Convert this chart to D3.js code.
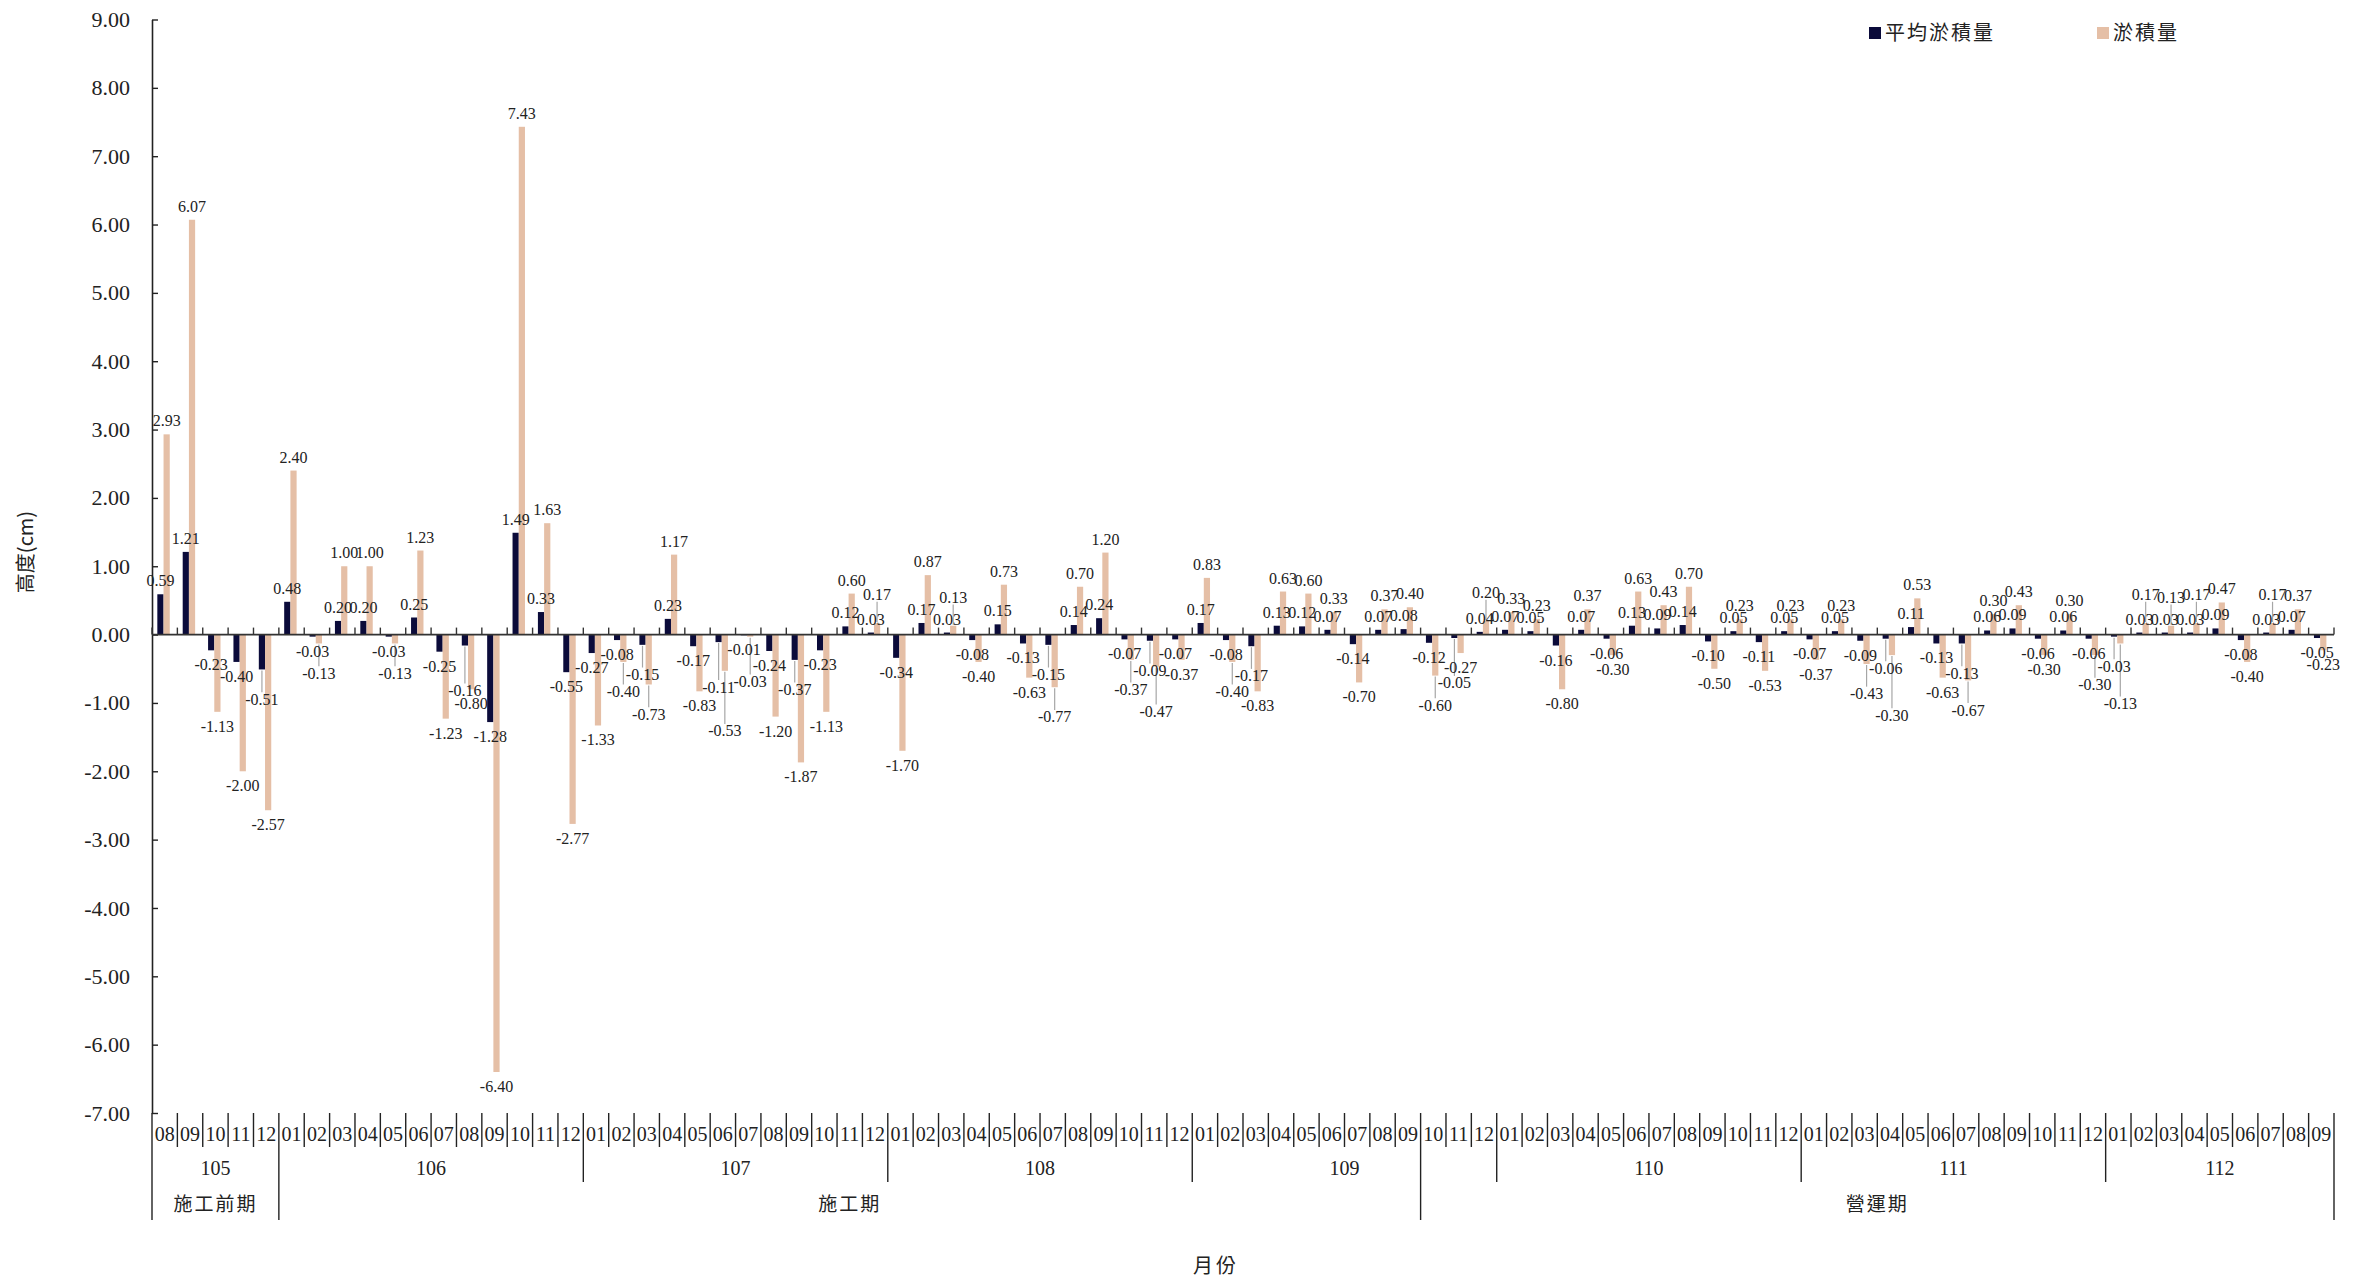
<!DOCTYPE html>
<html><head><meta charset="utf-8">
<script src="https://cdn.jsdelivr.net/npm/d3@7"></script>
<style>body{margin:0;background:#fff}</style>
</head><body>
<svg id="c" width="2369" height="1282"></svg>
<script>
const categories = [
 "105/08","105/09","105/10","105/11","105/12",
 "106/01","106/02","106/03","106/04","106/05","106/06","106/07","106/08","106/09","106/10","106/11","106/12",
 "107/01","107/02","107/03","107/04","107/05","107/06","107/07","107/08","107/09","107/10","107/11","107/12",
 "108/01","108/02","108/03","108/04","108/05","108/06","108/07","108/08","108/09","108/10","108/11","108/12",
 "109/01","109/02","109/03","109/04","109/05","109/06","109/07","109/08","109/09","109/10","109/11","109/12",
 "110/01","110/02","110/03","110/04","110/05","110/06","110/07","110/08","110/09","110/10","110/11","110/12",
 "111/01","111/02","111/03","111/04","111/05","111/06","111/07","111/08","111/09","111/10","111/11","111/12",
 "112/01","112/02","112/03","112/04","112/05","112/06","112/07","112/08","112/09"
];
const avgSediment = [
 0.59,1.21,-0.23,-0.40,-0.51,
 0.48,-0.03,0.20,0.20,-0.03,0.25,-0.25,-0.16,-1.28,1.49,0.33,-0.55,
 -0.27,-0.08,-0.15,0.23,-0.17,-0.11,-0.01,-0.24,-0.37,-0.23,0.12,0.03,
 -0.34,0.17,0.03,-0.08,0.15,-0.13,-0.15,0.14,0.24,-0.07,-0.09,-0.07,
 0.17,-0.08,-0.17,0.13,0.12,0.07,-0.14,0.07,0.08,-0.12,-0.05,0.04,
 0.07,0.05,-0.16,0.07,-0.06,0.13,0.09,0.14,-0.10,0.05,-0.11,0.05,
 -0.07,0.05,-0.09,-0.06,0.11,-0.13,-0.13,0.06,0.09,-0.06,0.06,-0.06,
 -0.03,0.03,0.03,0.03,0.09,-0.08,0.03,0.07,-0.05
];
const sediment = [
 2.93,6.07,-1.13,-2.00,-2.57,
 2.40,-0.13,1.00,1.00,-0.13,1.23,-1.23,-0.80,-6.40,7.43,1.63,-2.77,
 -1.33,-0.40,-0.73,1.17,-0.83,-0.53,-0.03,-1.20,-1.87,-1.13,0.60,0.17,
 -1.70,0.87,0.13,-0.40,0.73,-0.63,-0.77,0.70,1.20,-0.37,-0.47,-0.37,
 0.83,-0.40,-0.83,0.63,0.60,0.33,-0.70,0.37,0.40,-0.60,-0.27,0.20,
 0.33,0.23,-0.80,0.37,-0.30,0.63,0.43,0.70,-0.50,0.23,-0.53,0.23,
 -0.37,0.23,-0.43,-0.30,0.53,-0.63,-0.67,0.30,0.43,-0.30,0.30,-0.30,
 -0.13,0.17,0.13,0.17,0.47,-0.40,0.17,0.37,-0.23
];
const seriesNames = ["平均淤積量","淤積量"];
const seriesColors = ["#0b0b3a","#e5bfa6"];
const yTicks = [9,8,7,6,5,4,3,2,1,0,-1,-2,-3,-4,-5,-6,-7];
const periodNames = ["施工前期","施工期","營運期"];
const periodStarts = ["105/08","106/01","109/10"];

(function () {
const svg = d3.select("#c");
const serif = "'Liberation Serif','Times New Roman',serif";
const cjk = "'Noto Sans CJK TC','Noto Sans CJK SC',sans-serif";
const L = 152, R = 2334, T = 19.5, B = 1113;

const x = d3.scaleBand().domain(categories).range([L, R]).padding(0);
const bw = x.bandwidth();
const y = d3.scaleLinear().domain([-7, 9]).range([B, T]);
const inner = d3.scaleBand().domain(seriesNames).range([bw * 0.21, bw * 0.70]).padding(0);
const color = d3.scaleOrdinal().domain(seriesNames).range(seriesColors);
const f2 = d3.format(".2f");
const fmt = v => f2(v).replace("\u2212", "-");

// Y axis
const yAxis = d3.axisLeft(y).tickValues(yTicks).tickFormat(fmt)
  .tickSizeInner(-6).tickSizeOuter(0).tickPadding(22);
const gy = svg.append("g").attr("transform", `translate(${L},0)`).call(yAxis);
gy.select(".domain").attr("stroke", "#222").attr("stroke-width", 1.6);
gy.selectAll(".tick line").attr("stroke", "#222").attr("stroke-width", 1.4);
gy.selectAll(".tick text").attr("font-family", serif).attr("font-size", 22).attr("fill", "#222");

// Bars
const rows = categories.map((c, i) => ({cat: c, vals: [avgSediment[i], sediment[i]]}));
const barsG = svg.append("g");
rows.forEach(r => {
  seriesNames.forEach((s, k) => {
    const v = r.vals[k];
    barsG.append("rect")
      .attr("x", x(r.cat) + inner(s))
      .attr("width", inner.bandwidth())
      .attr("y", y(Math.max(0, v)))
      .attr("height", Math.abs(y(v) - y(0)))
      .attr("fill", color(s));
  });
});

// Zero (category) line and month tick marks
const y0 = y(0);
svg.append("line").attr("x1", L).attr("x2", R).attr("y1", y0).attr("y2", y0)
  .attr("stroke", "#333").attr("stroke-width", 1.8);
const bounds = d3.range(categories.length + 1).map(i => L + i * bw);
svg.append("g").selectAll("line").data(bounds).join("line")
  .attr("x1", d => d).attr("x2", d => d).attr("y1", y0 - 7).attr("y2", y0)
  .attr("stroke", "#333").attr("stroke-width", 1.4);

// Data labels with simple collision avoidance (push away from zero line)
const FS = 16;
const leaderG = svg.append("g");
const labelG = svg.append("g");
const placed = [];
const tol = 3;
function overlaps(b) {
  return placed.some(p => b.x0 < p.x1 - tol && b.x1 > p.x0 + tol && b.y0 < p.y1 - 1 && b.y1 > p.y0 + 1);
}
const order = [];
seriesNames.forEach((s, k) => rows.forEach(r => order.push({r, s, k})));
order.forEach(({r, s, k}) => {
  const v = r.vals[k];
  const cx = x(r.cat) + inner(s) + inner.bandwidth() / 2;
  const dir = v >= 0 ? -1 : 1;
  let base = v >= 0 ? y(v) - 8 : y(v) + 20;
  const t = labelG.append("text").attr("x", cx).attr("y", base)
    .attr("text-anchor", "middle").attr("font-family", serif).attr("font-size", FS).attr("fill", "#222")
    .text(fmt(v));
  const w = t.node().getComputedTextLength();
  let box = {x0: cx - w / 2, x1: cx + w / 2, y0: base - FS * 0.72, y1: base + 1};
  let step = 0;
  while (overlaps(box) && step < 6) {
    step++;
    base += dir * FS * 0.95;
    box = {x0: cx - w / 2, x1: cx + w / 2, y0: base - FS * 0.72, y1: base + 1};
  }
  t.attr("y", base);
  placed.push(box);
  if (step > 0) {
    const ly = v >= 0 ? box.y1 + 1 : box.y0 - 1;
    leaderG.append("line").attr("x1", cx).attr("x2", cx)
      .attr("y1", ly).attr("y2", y(v) + (v >= 0 ? -1 : 1))
      .attr("stroke", "#a6a6a6").attr("stroke-width", 1.2);
  }
});

// Bottom multi-level category axis
const periodIdx = periodStarts.map(p => categories.indexOf(p));
const ga = svg.append("g");
ga.selectAll("line").data(bounds).join("line")
  .attr("x1", d => d).attr("x2", d => d)
  .attr("y1", B)
  .attr("y2", (d, i) => {
    if (i === 0 || i === categories.length || periodIdx.includes(i)) return 1220;
    if (categories[i].endsWith("/01")) return 1182;
    return 1147;
  })
  .attr("stroke", "#222").attr("stroke-width", 1.4);
ga.selectAll("text.m").data(categories).join("text").attr("class", "m")
  .attr("x", d => x(d) + bw / 2).attr("y", 1141)
  .attr("text-anchor", "middle").attr("font-family", serif).attr("font-size", 20).attr("fill", "#222")
  .text(d => d.split("/")[1]);
const years = Array.from(d3.group(categories, d => d.split("/")[0]), ([yr, list]) => ({yr, first: list[0], last: list[list.length - 1]}));
ga.selectAll("text.yr").data(years).join("text").attr("class", "yr")
  .attr("x", d => (x(d.first) + x(d.last) + bw) / 2).attr("y", 1175)
  .attr("text-anchor", "middle").attr("font-family", serif).attr("font-size", 20).attr("fill", "#222")
  .text(d => d.yr);
const periods = periodNames.map((p, k) => ({p, s: periodIdx[k], e: k + 1 < periodIdx.length ? periodIdx[k + 1] : categories.length}));
ga.selectAll("text.pd").data(periods).join("text").attr("class", "pd")
  .attr("x", d => L + (d.s + d.e) / 2 * bw).attr("y", 1211)
  .attr("text-anchor", "middle").attr("font-family", cjk).attr("font-size", 19).attr("fill", "#222")
  .attr("letter-spacing", 2)
  .text(d => d.p);

// Axis titles
svg.append("text").attr("transform", "translate(33,552) rotate(-90)")
  .attr("text-anchor", "middle").attr("font-family", cjk).attr("font-size", 20).attr("fill", "#222")
  .text("高度(cm)");
svg.append("text").attr("x", 1216).attr("y", 1273)
  .attr("text-anchor", "middle").attr("font-family", cjk).attr("font-size", 20).attr("fill", "#222")
  .attr("letter-spacing", 3)
  .text("月份");

// Legend
const legendX = [1869, 2097];
const lg = svg.append("g").selectAll("g").data(seriesNames).join("g")
  .attr("transform", (d, i) => `translate(${legendX[i]},33)`);
lg.append("rect").attr("x", 0).attr("y", -6).attr("width", 12).attr("height", 12).attr("fill", d => color(d));
lg.append("text").attr("x", 16).attr("y", 7).attr("font-family", cjk).attr("font-size", 20)
  .attr("letter-spacing", 2).attr("fill", "#222").text(d => d);
})();
</script>
</body></html>
